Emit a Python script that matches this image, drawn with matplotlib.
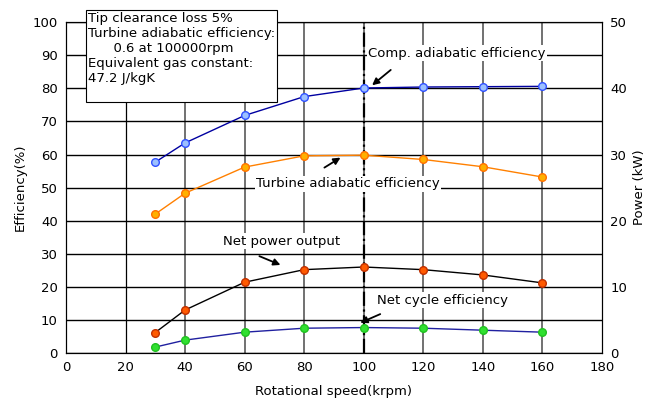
import matplotlib.pyplot as plt

# values
speed = [30, 40, 60, 80, 100, 120, 140, 160]
comp_eff = [57.7, 63.5, 71.8, 77.5, 80.1, 80.4, 80.5, 80.6]
turb_eff = [42.0, 48.3, 56.2, 59.6, 59.8, 58.5, 56.3, 53.2]
net_power = [3.1, 6.5, 10.7, 12.6, 13.0, 12.6, 11.8, 10.6]
cycle_eff = [1.8, 3.9, 6.3, 7.5, 7.7, 7.5, 6.9, 6.3]

plt.rcParams['font.family'] = ['DejaVu Sans']
fs = 9.5

fig = plt.figure(figsize=(6.5, 4.03), dpi=100)
ax = fig.add_axes([0.1015, 0.124, 0.8245, 0.821])
ax2 = ax.twinx()

ax.set_xlim(0, 180)
ax.set_ylim(0, 100)
ax2.set_ylim(0, 50)
ax.set_xticks(range(0, 181, 20))
ax.set_yticks(range(0, 101, 10))
ax2.set_yticks(range(0, 51, 10))
ax.tick_params(labelsize=fs, length=0, pad=6)
ax2.tick_params(labelsize=fs, length=0, pad=6)

ax.grid(True, axis='y', color='black', lw=1)
for x in range(20, 180, 20):
    if x in speed:
        ax.axvline(x, color='#666666', lw=1.3, zorder=0.5)
    else:
        ax.axvline(x, color='black', lw=0.9, zorder=0.5)
ax.set_axisbelow(True)

ax.axvline(100, color='black', lw=1.6, ls='-.', zorder=1)

ax.plot(speed, comp_eff, color='#0000a0', lw=1, marker='o', ms=5.5,
        mfc='#9cc0ff', mec='#3050ff', zorder=3)
ax.plot(speed, turb_eff, color='#ff8000', lw=1, marker='o', ms=5.5,
        mfc='#ffb000', mec='#ff7000', zorder=3)
ax.plot(speed, cycle_eff, color='#2020a0', lw=1, marker='o', ms=5.5,
        mfc='#30e030', mec='#20c020', zorder=3)
ax2.plot(speed, net_power, color='black', lw=1, marker='o', ms=5.5,
         mfc='#ff5a00', mec='#c03000', zorder=3)

ax.set_xlabel('Rotational speed(krpm)', fontsize=fs, labelpad=8)
ax.set_ylabel('Efficiency(%)', fontsize=fs)
ax2.set_ylabel('Power (kW)', fontsize=fs)

arrow = dict(arrowstyle='-|>', color='black', lw=1.3, mutation_scale=10)
wbox = dict(facecolor='white', edgecolor='none', pad=1)
ax.text(131.3, 90.6, 'Comp. adiabatic efficiency', ha='center', va='center',
        fontsize=fs, bbox=wbox, zorder=5)
ax.annotate('', xy=(102.1, 80.4), xytext=(109.8, 86.1), arrowprops=arrow)
ax.text(94.7, 51.1, 'Turbine adiabatic efficiency', ha='center', va='center',
        fontsize=fs, bbox=wbox, zorder=5)
ax.annotate('', xy=(93, 59.5), xytext=(86, 55.6), arrowprops=arrow)
ax.text(72.5, 33.8, 'Net power output', ha='center', va='center',
        fontsize=fs, bbox=wbox, zorder=5)
ax.annotate('', xy=(72.9, 26.3), xytext=(64.1, 29.6), arrowprops=arrow)
ax.text(126.6, 16.0, 'Net cycle efficiency', ha='center', va='center',
        fontsize=fs, bbox=wbox, zorder=5)
ax.annotate('', xy=(98, 8.8), xytext=(106.4, 12.1), arrowprops=arrow)

note = ('Tip clearance loss 5%\nTurbine adiabatic efficiency:\n'
        '      0.6 at 100000rpm\nEquivalent gas constant:\n47.2 J/kgK\n ')
fig.text(88 / 650, 1 - 12 / 403, note, ha='left', va='top', fontsize=fs,
         linespacing=1.2, zorder=10,
         bbox=dict(facecolor='white', edgecolor='black', lw=0.8,
                   boxstyle='square,pad=0.15'))

fig.savefig('out.png', dpi=100)
